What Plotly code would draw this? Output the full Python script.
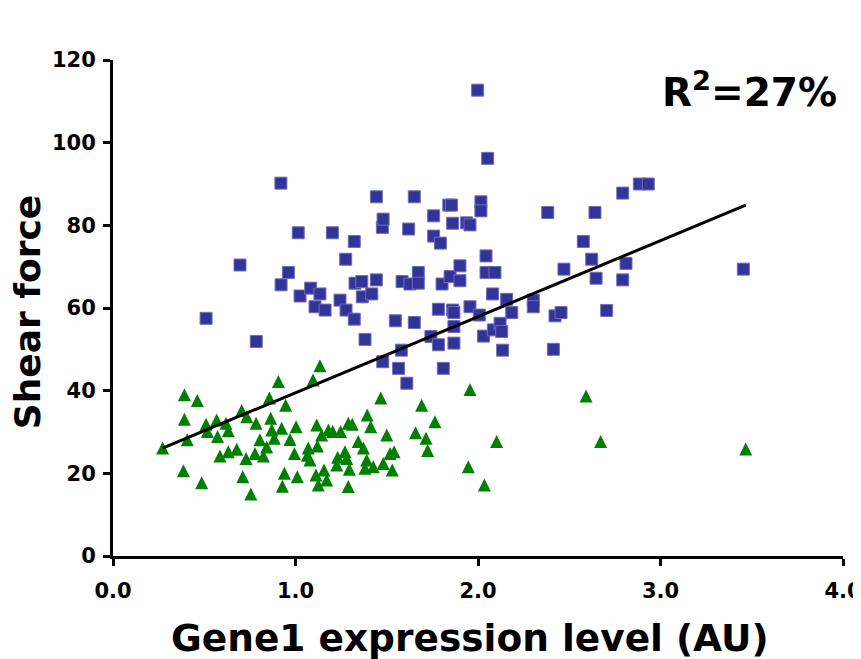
import plotly.graph_objects as go

# ---- data ----
blue_x = [0.51, 0.696, 0.785, 0.92, 0.921, 0.961, 1.015, 1.025, 1.083, 1.107, 1.134, 1.162,
          1.202, 1.244, 1.275, 1.277, 1.322, 1.322, 1.326, 1.363, 1.366, 1.381, 1.418, 1.443,
          1.443, 1.476, 1.48, 1.478, 1.547, 1.565, 1.61, 1.58, 1.584, 1.62, 1.627, 1.651,
          1.651, 1.673, 1.673, 1.742, 1.757, 1.757, 1.783, 1.783, 1.794, 1.803, 1.81, 1.84,
          1.855, 1.847, 1.861, 1.861, 1.868, 1.868, 1.868, 1.901, 1.901, 1.938, 1.956, 1.956,
          1.998, 2.007, 2.016, 2.016, 2.03, 2.044, 2.044, 2.053, 2.08, 2.084, 2.093, 2.121,
          2.13, 2.135, 2.157, 2.185, 2.303, 2.303, 2.382, 2.413, 2.422, 2.455, 2.471, 2.577,
          2.623, 2.641, 2.647, 2.705, 2.793, 2.793, 2.811, 2.884, 2.933, 3.454]
blue_y = [57.5, 70.4, 51.9, 90.2, 65.6, 68.6, 78.2, 62.9, 64.8, 60.3, 63.4, 59.5,
          78.2, 61.9, 71.8, 59.5, 76.1, 57.3, 66.0, 66.4, 62.7, 52.4, 63.4, 86.9,
          66.8, 79.5, 81.5, 47.0, 56.9, 45.4, 41.8, 49.8, 66.4, 79.1, 65.8, 86.9,
          56.5, 68.6, 66.0, 53.1, 82.3, 77.4, 59.7, 51.1, 75.7, 65.8, 45.4, 84.9,
          84.9, 67.6, 80.5, 59.5, 58.9, 55.5, 51.5, 70.2, 66.6, 80.6, 80.1, 60.3,
          112.7, 58.3, 85.7, 83.5, 53.2, 72.6, 68.6, 96.2, 63.4, 54.7, 68.6, 56.3,
          54.3, 49.8, 62.1, 58.9, 61.9, 60.3, 83.1, 50.0, 58.1, 58.9, 69.4, 76.1,
          71.8, 83.1, 67.2, 59.4, 87.8, 66.8, 70.8, 90.0, 90.0, 69.4]

green_x = [0.272, 0.391, 0.462, 0.391, 0.407, 0.386, 0.486, 0.51, 0.568, 0.517, 0.619, 0.632,
           0.573, 0.586, 0.632, 0.678, 0.729, 0.711, 0.755, 0.705, 0.733, 0.784, 0.778, 0.824,
           0.805, 0.842, 0.857, 0.906, 0.864, 0.87, 0.884, 0.924, 0.946, 1.003, 0.97, 0.994,
           0.939, 0.928, 1.01, 1.096, 1.134, 1.116, 1.07, 1.065, 1.079, 1.112, 1.125, 1.156,
           1.171, 1.12, 1.143, 1.18, 1.204, 1.231, 1.226, 1.271, 1.281, 1.295, 1.289, 1.247,
           1.289, 1.311, 1.344, 1.372, 1.381, 1.426, 1.39, 1.393, 1.412, 1.467, 1.5, 1.481,
           1.53, 1.518, 1.54, 1.691, 1.764, 1.658, 1.715, 1.724, 1.956, 1.947, 2.035, 2.102,
           2.592, 2.672, 3.467]
green_y = [26.1, 39.0, 37.6, 33.1, 28.1, 20.6, 17.7, 31.9, 32.9, 30.1, 32.1, 30.3,
           28.9, 24.2, 25.2, 25.8, 23.6, 19.2, 15.0, 35.2, 33.7, 32.1, 24.8, 24.2,
           28.1, 26.4, 38.2, 42.2, 33.3, 30.5, 28.5, 30.9, 36.5, 31.3, 28.2, 24.8,
           20.0, 16.9, 19.2, 42.6, 46.0, 31.7, 26.1, 24.4, 23.2, 19.6, 17.2, 20.8,
           18.4, 26.6, 29.3, 30.5, 30.1, 23.9, 22.0, 25.2, 23.6, 21.0, 16.8, 30.1,
           32.1, 31.9, 27.7, 26.1, 21.2, 21.6, 23.2, 34.1, 31.3, 38.2, 29.3, 22.4,
           20.8, 24.8, 25.2, 36.5, 32.5, 29.8, 28.5, 25.5, 40.3, 21.6, 17.2, 27.7,
           38.7, 27.7, 25.9]

trend_slope = 18.4
trend_intercept = 21.1
r2_label = "R<sup>2</sup>=27%"
x_title = "Gene1 expression level (AU)"
y_title = "Shear force"

x_ticks = [0, 1, 2, 3, 4]
x_tick_labels = ["0.0", "1.0", "2.0", "3.0", "4.0"]
y_ticks = [0, 20, 40, 60, 80, 100, 120]

# ---- figure ----
FONT = "DejaVu Sans"
all_x = blue_x + green_x
line_x = [min(all_x), max(all_x)]
line_y = [trend_intercept + trend_slope * v for v in line_x]

fig = go.Figure()
fig.add_trace(go.Scatter(
    x=blue_x, y=blue_y, mode="markers",
    marker=dict(symbol="square", size=12, color="#333399",
                line=dict(width=1, color="#6f6fb8")),
    showlegend=False, cliponaxis=False))
TRI = 13
fig.add_trace(go.Scatter(
    x=green_x, y=green_y, mode="markers",
    marker=dict(symbol="arrow-down", angle=180, standoff=TRI / 2, size=TRI,
                color="#008000", line=dict(width=0)),
    showlegend=False, cliponaxis=False))
fig.add_trace(go.Scatter(
    x=line_x, y=line_y, mode="lines",
    line=dict(color="black", width=3),
    showlegend=False, cliponaxis=False))

fig.add_annotation(
    text=r2_label, xref="paper", yref="paper", x=0.994, y=0.94,
    xanchor="right", yanchor="middle", showarrow=False,
    font=dict(family=FONT, size=39, color="black", weight="bold"))
fig.add_annotation(
    text=x_title, xref="paper", yref="paper", x=0.489, y=-0.165,
    xanchor="center", yanchor="middle", showarrow=False,
    font=dict(family=FONT, size=37.5, color="black", weight="bold"))
fig.add_annotation(
    text=y_title, xref="paper", yref="paper", x=-0.116, y=0.492,
    xanchor="center", yanchor="middle", showarrow=False, textangle=-90,
    font=dict(family=FONT, size=36, color="black", weight="bold"))

axis_common = dict(
    showline=True, linecolor="black", linewidth=3,
    ticks="outside", ticklen=7, tickwidth=3, tickcolor="black",
    showgrid=False, zeroline=False, automargin=False,
    ticklabeloverflow="allow",
    tickfont=dict(family=FONT, size=21, color="black", weight="bold"),
)
fig.update_xaxes(range=[0, 4], tickvals=x_ticks, ticktext=x_tick_labels,
                 ticklabelstandoff=7, **axis_common)
fig.update_yaxes(range=[0, 120], tickvals=y_ticks,
                 ticklabelstandoff=3, **axis_common)

# page body has an 8px default margin; size the figure so it fills 861x659 exactly
fig.update_layout(
    width=853, height=651,
    margin=dict(l=105, r=18, t=52, b=103),
    paper_bgcolor="white", plot_bgcolor="white",
    font=dict(family=FONT, color="black"),
)

fig.write_html("out.html")
